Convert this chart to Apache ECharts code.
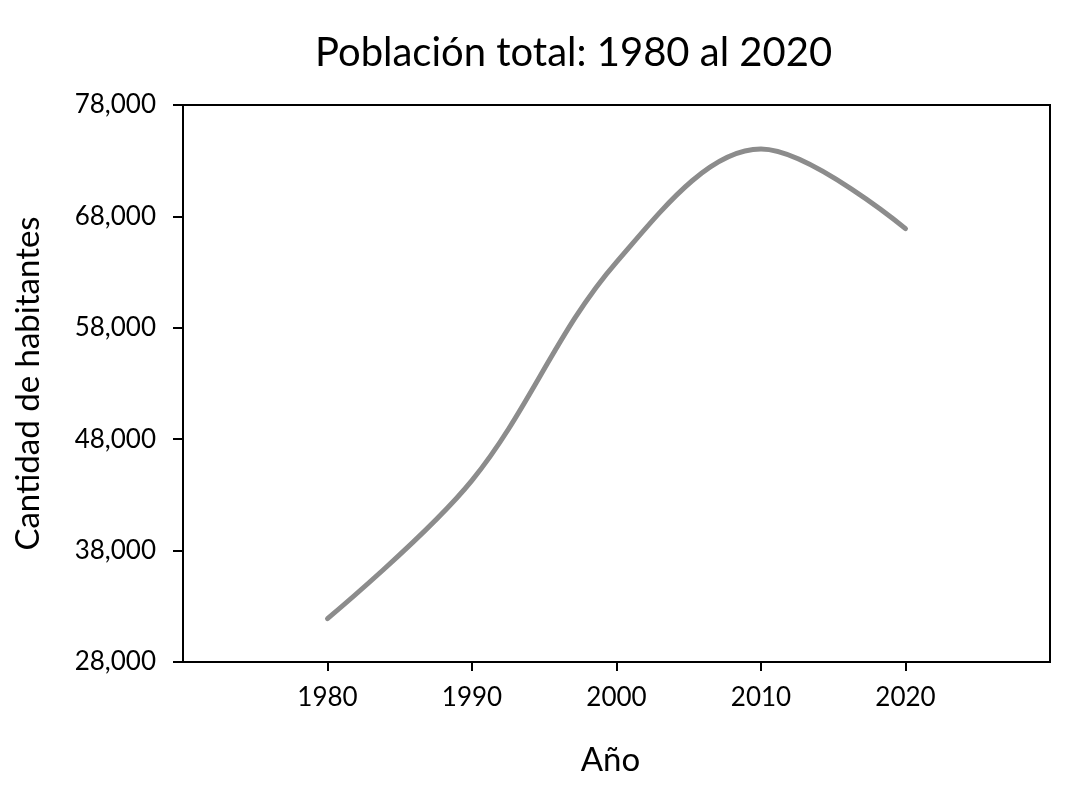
<!DOCTYPE html>
<html>
<head>
<meta charset="utf-8">
<script src="https://cdn.jsdelivr.net/npm/echarts@6/dist/echarts.min.js"></script>
<style>
html,body{margin:0;padding:0;background:#fff;}
#chart{width:1088px;height:795px;}
</style>
</head>
<body>
<div id="chart"></div>
<script>
const years = [1980, 1990, 2000, 2010, 2020];
const population = [31900, 44300, 63900, 74050, 66900];
const yTicks = [28000, 38000, 48000, 58000, 68000, 78000];
const titleText = 'Población total: 1980 al 2020';
const xName = 'Año';
const yName = 'Cantidad de habitantes';

const FONT = 'Lato';
const chart = echarts.init(document.getElementById('chart'), null, {renderer: 'canvas'});
chart.setOption({
  animation: false,
  backgroundColor: '#fff',
  title: {
    text: titleText,
    left: 310,
    top: 28,
    textStyle: {fontFamily: FONT, fontSize: 40, fontWeight: 'normal', color: '#000'}
  },
  grid: {
    left: 183, right: 38, top: 105, bottom: 133,
    show: true, borderColor: '#000', borderWidth: 2, backgroundColor: '#fff'
  },
  xAxis: {
    type: 'value',
    min: 1970, max: 2030, interval: 10,
    name: xName,
    nameLocation: 'middle',
    nameGap: 82,
    nameTextStyle: {fontFamily: FONT, fontSize: 33, color: '#000', padding: [0, 12, 0, 0]},
    axisLine: {show: true, lineStyle: {color: '#000', width: 2}},
    axisTick: {show: true, length: 9, lineStyle: {color: '#000', width: 2}, customValues: years},
    axisLabel: {
      fontFamily: FONT, fontSize: 26, color: '#000', margin: 23,
      customValues: years,
      formatter: v => String(v)
    },
    splitLine: {show: false}
  },
  yAxis: {
    type: 'value',
    min: yTicks[0], max: yTicks[yTicks.length - 1], interval: 10000,
    name: yName,
    nameLocation: 'middle',
    nameGap: 138,
    nameTextStyle: {fontFamily: FONT, fontSize: 33, color: '#000'},
    axisLine: {show: true, lineStyle: {color: '#000', width: 2}},
    axisTick: {show: true, length: 10, lineStyle: {color: '#000', width: 2}},
    axisLabel: {
      fontFamily: FONT, fontSize: 26, color: '#000', margin: 27,
      formatter: v => v.toLocaleString('en-US')
    },
    splitLine: {show: false}
  },
  series: [{
    type: 'line',
    data: years.map((y, i) => [y, population[i]]),
    smooth: 0.35,
    showSymbol: false,
    symbol: 'none',
    lineStyle: {color: '#8c8c8c', width: 5, cap: 'round'}
  }]
});
</script>
</body>
</html>
